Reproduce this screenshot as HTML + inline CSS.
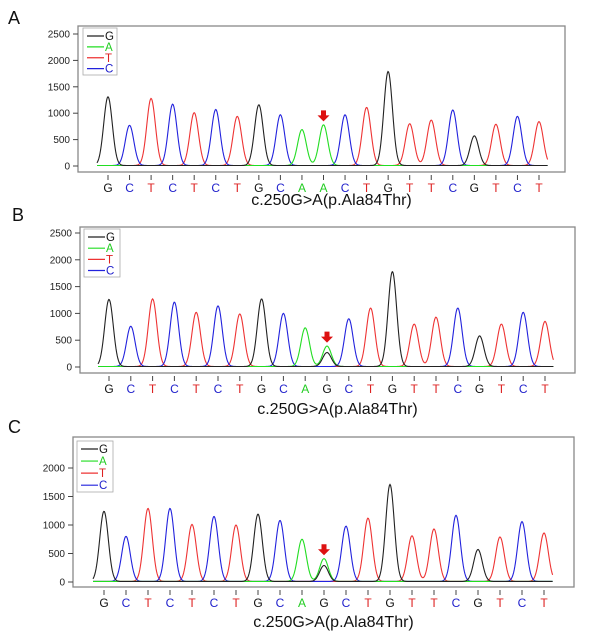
<!DOCTYPE html>
<html><head><meta charset="utf-8"><style>
body{margin:0;background:#fff;}
svg{display:block;font-family:"Liberation Sans",Arial,sans-serif;}
</style></head><body>
<svg id="fig" width="604" height="638" viewBox="0 0 604 638"></svg>
<script>
const basesA = ["G","C","T","C","T","C","T","G","C","A","A","C","T","G","T","T","C","G","T","C","T"];
const basesB = ["G","C","T","C","T","C","T","G","C","A","G","C","T","G","T","T","C","G","T","C","T"];
const basesC = ["G","C","T","C","T","C","T","G","C","A","G","C","T","G","T","T","C","G","T","C","T"];
const heightsA = [1300,760,1270,1160,1000,1060,930,1150,960,680,770,960,1100,1780,790,860,1050,560,780,930,830];
const heightsB = [1250,750,1260,1200,1010,1130,980,1260,990,720,260,890,1090,1770,790,920,1090,570,790,1010,840];
const heightsC = [1230,790,1280,1280,1000,1140,990,1180,1070,740,280,970,1110,1700,800,920,1160,560,780,1050,850];
const secondaryB = [{i:10,base:"A",h:380}];
const secondaryC = [{i:10,base:"A",h:400}];
const secondaryA = [];
const ticksAB = [0,500,1000,1500,2000,2500];
const ticksC = [0,500,1000,1500,2000];
const legendBases = ["G","A","T","C"];
const caption = "c.250G>A(p.Ala84Thr)";

const COL={G:"#222",A:"#22dd22",T:"#ee3333",C:"#2222dd"};
const LCOL={G:"#111",A:"#22cc22",T:"#dd2222",C:"#2222cc"};
const NS="http://www.w3.org/2000/svg";
const svg=document.getElementById("fig");
function mk(tag,attrs,parent){const e=document.createElementNS(NS,tag);for(const k in attrs)e.setAttribute(k,attrs[k]);(parent||svg).appendChild(e);return e;}

const panels=[
 {label:"A",lx:8,ly:24,left:78,right:565,top:26,bottom:172,y0:166,ymaxPx:34,ymaxVal:2500,x0:108,x1:539,bases:basesA,h:heightsA,sec:secondaryA,ticks:ticksAB,letY:192,capY:205,arrow:10,leg:[83,28,34,47]},
 {label:"B",lx:12,ly:221,left:80,right:575,top:227,bottom:373,y0:367,ymaxPx:233,ymaxVal:2500,x0:109,x1:545,bases:basesB,h:heightsB,sec:secondaryB,ticks:ticksAB,letY:393,capY:414,arrow:10,leg:[84,229,36,48]},
 {label:"C",lx:8,ly:433,left:73,right:574,top:437,bottom:587,y0:582,ymaxPx:468,ymaxVal:2000,x0:104,x1:544,bases:basesC,h:heightsC,sec:secondaryC,ticks:ticksC,letY:607,capY:627,arrow:10,leg:[77,441,36,51]}
];

panels.forEach((p,pi)=>{
 const g=mk("g",{});
 
 
 const yS=v=>p.y0-(v/p.ymaxVal)*(p.y0-p.ymaxPx);
 const n=p.bases.length;
 const xS=i=>p.x0+i*(p.x1-p.x0)/(n-1);
 const lab=mk("text",{x:p.lx,y:p.ly,"font-size":18,fill:"#111"},g);lab.textContent=p.label;
 
 
 const fr=mk("rect",{x:p.left,y:p.top,width:p.right-p.left,height:p.bottom-p.top,fill:"#fff",stroke:"#888","stroke-width":1.3},g);
 
 
 p.ticks.forEach(t=>{
  const y=yS(t);
  mk("line",{x1:p.left-5,x2:p.left,y1:y,y2:y,stroke:"#444"},g);
  const tx=mk("text",{x:p.left-8,y:y+3.5,"font-size":10,"text-anchor":"end",fill:"#222"},g);tx.textContent=t;
  
  
 });
 const sig=4.3;
 ["T","C","A","G"].forEach(b=>{
  let d="";
  for(let x=p.x0-11;x<=p.x1+9;x+=0.6){
   let v=10;
   p.bases.forEach((bb,i)=>{if(bb===b){const dx=x-xS(i);v+=p.h[i]*Math.exp(-dx*dx/(2*sig*sig));}});
   p.sec.forEach(s=>{if(s.base===b){const dx=x-xS(s.i);v+=s.h*Math.exp(-dx*dx/(2*sig*sig));}});
   d+=(d?"L":"M")+x.toFixed(1)+","+yS(v).toFixed(1);
  }
  const path=mk("path",{d:d,fill:"none",stroke:COL[b],"stroke-width":1.1},g);
  
  
 });
 p.bases.forEach((b,i)=>{
  const x=xS(i);
  mk("line",{x1:x,x2:x,y1:p.bottom+3,y2:p.bottom+8,stroke:"#444"},g);
  const t=mk("text",{x:x,y:p.letY,"font-size":12,"text-anchor":"middle",fill:LCOL[b]},g);t.textContent=b;
  
  
 });
 const ai=p.arrow;let top=p.h[ai];p.sec.forEach(s=>{if(s.i===ai)top=Math.max(top,s.h);});
 const ax=xS(ai),ay=yS(top)-4;
 const ar=mk("path",{d:`M${ax-2.5},${ay-11}h5v5h3.5l-6,6l-6,-6h3.5z`,fill:"#dd1111"},g);
 
 
 const [lx,ly,lw,lh]=p.leg;
 const lg=mk("g",{},g);
 
 
 mk("rect",{x:lx,y:ly,width:lw,height:lh,fill:"#fff",stroke:"#aaa","stroke-width":0.8},lg);
 legendBases.forEach((b,k)=>{
  const yy=ly+8+k*(lh-10)/3.4;
  mk("line",{x1:lx+4,x2:lx+21,y1:yy,y2:yy,stroke:COL[b],"stroke-width":1.2},lg);
  const t=mk("text",{x:lx+22,y:yy+4,"font-size":11.5,fill:LCOL[b]},lg);t.textContent=b;
  
  
 });
 const cap=mk("text",{x:(p.left+p.right)/2+10,y:p.capY,"font-size":16,"text-anchor":"middle",fill:"#111"},g);cap.textContent=caption;
 
 
});
</script>
</body></html>
